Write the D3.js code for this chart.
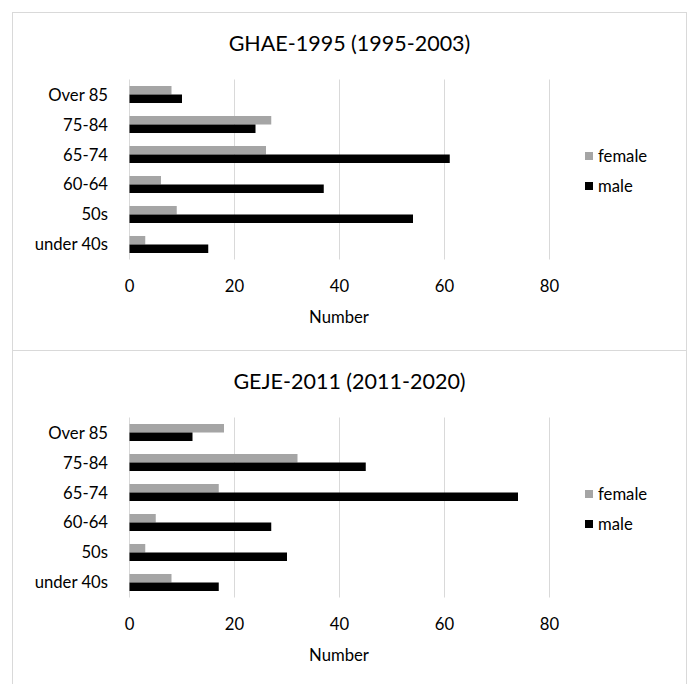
<!DOCTYPE html>
<html>
<head>
<meta charset="utf-8">
<script src="https://cdn.jsdelivr.net/npm/d3@7"></script>
<style>
  html, body { margin: 0; padding: 0; background: #fff; }
  svg { display: block; font-family: Lato, "Open Sans", sans-serif; }
</style>
</head>
<body>
<svg id="chart" width="691" height="684"></svg>
<script>
// Age groups, listed top to bottom as they appear on the axis
const categories = ["Over 85", "75-84", "65-74", "60-64", "50s", "under 40s"];
const seriesNames = ["female", "male"];
const xTicks = [0, 20, 40, 60, 80];

const titles = ["GHAE-1995 (1995-2003)", "GEJE-2011 (2011-2020)"];

// Counts per age group (same order as categories)
const female1995 = [8, 27, 26, 6, 9, 3];
const male1995   = [10, 24, 61, 37, 54, 15];
const female2011 = [18, 32, 17, 5, 3, 8];
const male2011   = [12, 45, 74, 27, 30, 17];

const panels = [
  { title: titles[0], female: female1995, male: male1995 },
  { title: titles[1], female: female2011, male: male2011 }
];

const colors = { female: "#a5a5a5", male: "#000000" };
const gridColor = "#d9d9d9";
const textColor = "#000000";
const labelSize = 16.7;
const titleSize = 21.5;

const svg = d3.select("#chart");

const panelLeft = 12, panelRight = 686, panelTop = 12, panelH = 338;

const x = d3.scaleLinear().domain([0, 80]).range([129, 549]);
const y = d3.scaleBand()
  .domain(categories)
  .range([67.5, 247.5])
  .paddingInner(0.433)
  .paddingOuter(0.2167);
const sub = d3.scaleBand().domain(seriesNames).range([0, y.bandwidth()]);

panels.forEach((p, i) => {
  const g = svg.append("g").attr("transform", `translate(0,${panelTop + i * panelH})`);

  // panel frame
  g.append("rect")
    .attr("x", panelLeft + 0.5).attr("y", 0.5)
    .attr("width", panelRight - panelLeft).attr("height", panelH)
    .attr("fill", "#fff").attr("stroke", gridColor).attr("stroke-width", 1);

  // title
  g.append("text")
    .attr("x", (panelLeft + panelRight) / 2 + 0.5).attr("y", 31)
    .attr("text-anchor", "middle").attr("dominant-baseline", "central")
    .attr("font-size", titleSize).attr("fill", textColor)
    .text(p.title);

  // vertical gridlines (including the zero line)
  const grid = g.append("g");
  grid.selectAll("line").data(xTicks).join("line")
    .attr("x1", d => Math.round(x(d)) + 0.5).attr("x2", d => Math.round(x(d)) + 0.5)
    .attr("y1", y.range()[0]).attr("y2", y.range()[1])
    .attr("stroke", gridColor).attr("stroke-width", 1);

  // x tick labels via d3 axis
  const xAxis = d3.axisBottom(x).tickValues(xTicks).tickSize(0).tickPadding(0);
  const ax = g.append("g").attr("transform", "translate(0,274)").call(xAxis);
  ax.select(".domain").remove();
  ax.selectAll("text")
    .attr("dy", null).attr("y", 0)
    .attr("dominant-baseline", "central")
    .attr("font-size", labelSize).attr("font-family", "Lato, 'Open Sans', sans-serif")
    .attr("fill", textColor);

  // x axis title
  g.append("text")
    .attr("x", x(40)).attr("y", 305)
    .attr("text-anchor", "middle").attr("dominant-baseline", "central")
    .attr("font-size", labelSize).attr("fill", textColor)
    .text("Number");

  // category labels
  const yAxis = d3.axisLeft(y).tickSize(0).tickPadding(0);
  const ay = g.append("g").attr("transform", "translate(108,0)").call(yAxis);
  ay.select(".domain").remove();
  ay.selectAll("text")
    .attr("dy", null).attr("x", 0)
    .attr("dominant-baseline", "central")
    .attr("font-size", labelSize).attr("font-family", "Lato, 'Open Sans', sans-serif")
    .attr("fill", textColor);

  // bars
  seriesNames.forEach(s => {
    g.append("g").selectAll("rect").data(categories).join("rect")
      .attr("x", x(0) + 0.5)
      .attr("y", (c) => y(c) + sub(s))
      .attr("width", (c, j) => x(p[s][j]) - x(0))
      .attr("height", sub.bandwidth())
      .attr("fill", colors[s]);
  });

  // legend
  const lg = g.append("g");
  seriesNames.forEach((s, k) => {
    const ly = 144 + k * 30;
    lg.append("rect")
      .attr("x", 585).attr("y", ly - 4)
      .attr("width", 8).attr("height", 8)
      .attr("fill", colors[s]);
    lg.append("text")
      .attr("x", 598).attr("y", ly)
      .attr("dominant-baseline", "central")
      .attr("font-size", labelSize).attr("fill", textColor)
      .text(s);
  });
});
</script>
</body>
</html>
